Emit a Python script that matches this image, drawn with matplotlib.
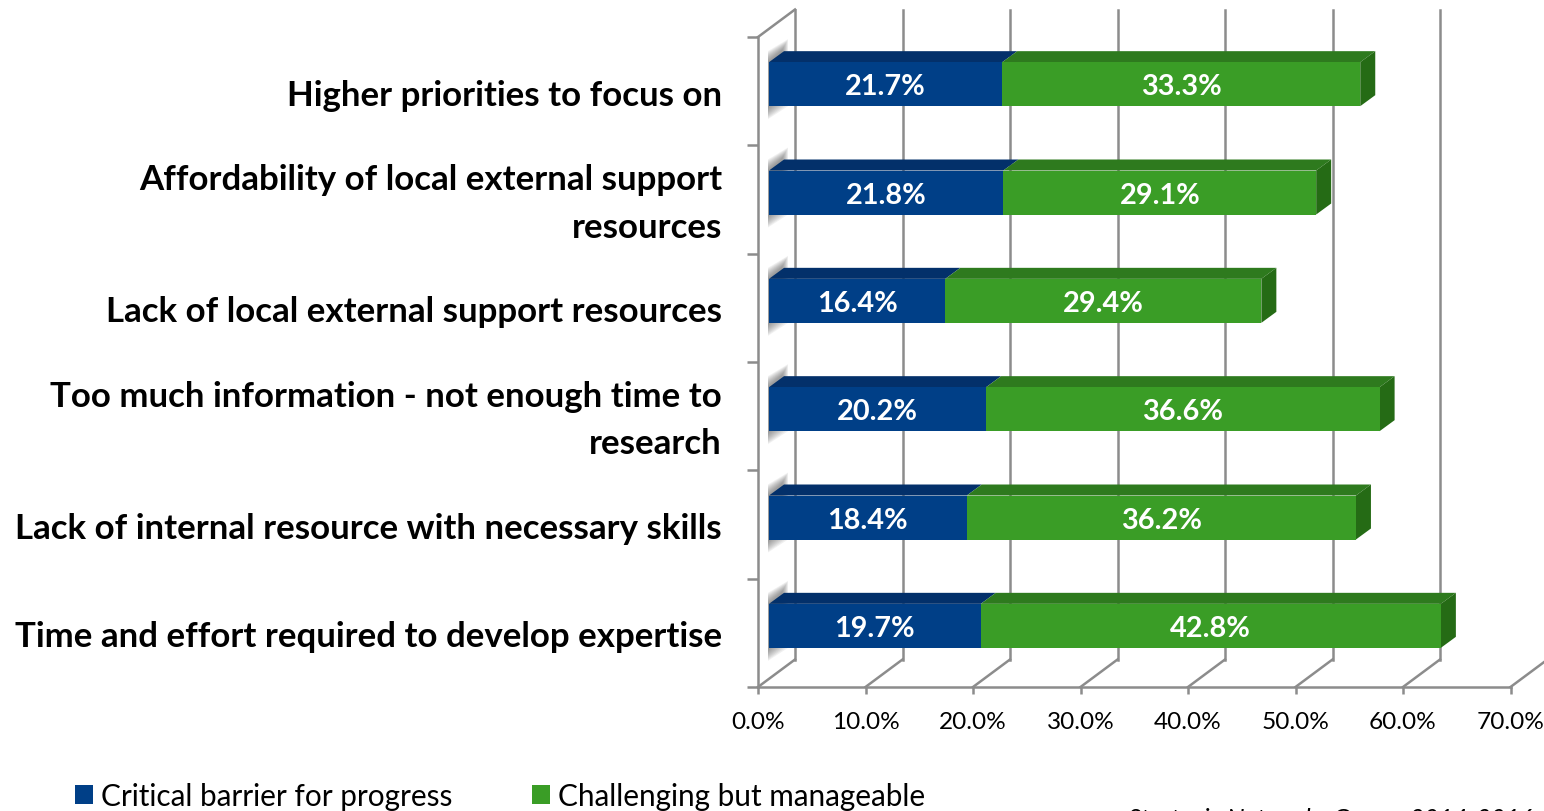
import matplotlib
matplotlib.use("Agg")
import matplotlib.pyplot as plt
from matplotlib.patches import Patch, Polygon

plt.rcParams['font.family'] = ['Lato', 'DejaVu Sans']

# bottom to top, the order barh draws them in
categories = [
    "Time and effort required to develop expertise",
    "Lack of internal resource with necessary skills",
    "Too much information - not enough time to\nresearch",
    "Lack of local external support resources",
    "Affordability of local external support\nresources",
    "Higher priorities to focus on",
]
critical = [19.7, 18.4, 20.2, 16.4, 21.8, 21.7]
challenging = [42.8, 36.2, 36.6, 29.4, 29.1, 33.3]
x_ticks = [0, 10, 20, 30, 40, 50, 60, 70]
series_names = ["Critical barrier for progress", "Challenging but manageable"]
source_note = "Strategic Networks Group, 2014-2016"

W, H = 1544, 812
BLUE, BLUE_TOP = "#003F87", "#03306A"
GREEN, GREEN_TOP, GREEN_SIDE = "#3A9D26", "#2E7A1E", "#256B15"
GREY = "#8C8C8C"
LW = 1.8

fig = plt.figure(figsize=(W / 100, H / 100), dpi=100)
ax = fig.add_axes([758 / W, 1 - 688 / H, (1510.5 - 758) / W, (688 - 38) / H])
ax.set_xlim(0, 70)
ax.set_ylim(0, 6)

# size of one data unit in pixels, the 3d offsets are built from it
ux = (1510.5 - 758) / 70
uy = (688 - 38) / 6
wall_dx, wall_dy = 37 / ux, 27.5 / uy
bar_dx, bar_dy = 15 / ux, 11 / uy
base = 11 / ux
bar_h = 44 / uy
bar_off = 7 / uy
label_off = 3.5 / uy


def poly(pts, color, z, alpha=1.0):
    ax.add_patch(Polygon(pts, closed=True, facecolor=color, edgecolor="none",
                         alpha=alpha, zorder=z, clip_on=False))


# back wall lines and floor lines
for t in x_ticks:
    ax.plot([t, t + wall_dx], [0, wall_dy], color=GREY, lw=LW, zorder=1, clip_on=False)
    ax.plot([t + wall_dx, t + wall_dx], [wall_dy, 6 + wall_dy], color=GREY, lw=LW,
            zorder=1, clip_on=False)
ax.plot([0, wall_dx], [6, 6 + wall_dy], color=GREY, lw=LW, zorder=1, clip_on=False)

y_pos = [i + 0.5 + bar_off for i in range(len(categories))]

# soft shadow of each bar on the left wall
for y in y_pos:
    y0, y1 = y - bar_h / 2, y + bar_h / 2
    for k in range(10):
        ins = k * 0.011
        poly([(base - 1 / ux, y0 - 13 / uy + ins), (base + 19 / ux - k * 0.06, y0 + ins),
              (base + 19 / ux - k * 0.06, y1 + 23 / uy - ins), (base - 1 / ux, y1 + 11 / uy - ins)],
             "#707070", 2, alpha=0.1)

bars1 = ax.barh(y_pos, critical, height=bar_h, left=base, color=BLUE, zorder=4)
left2 = [base + c for c in critical]
bars2 = ax.barh(y_pos, challenging, height=bar_h, left=left2, color=GREEN, zorder=4)

# top and side faces of the bars
for y, c, g in zip(y_pos, critical, challenging):
    top = y + bar_h / 2
    x1 = base + c
    x2 = x1 + g
    poly([(base, top), (x1, top), (x1 + bar_dx, top + bar_dy), (base + bar_dx, top + bar_dy)],
         BLUE_TOP, 3)
    poly([(x1, top), (x2, top), (x2 + bar_dx, top + bar_dy), (x1 + bar_dx, top + bar_dy)],
         GREEN_TOP, 3)
    poly([(x2, top), (x2 + bar_dx, top + bar_dy), (x2 + bar_dx, top + bar_dy - bar_h), (x2, top - bar_h)],
         GREEN_SIDE, 3)

for b in (bars1, bars2):
    labels = ax.bar_label(b, fmt="%.1f%%", label_type="center", color="white",
                          fontsize=20.8, fontweight="bold", zorder=6)
    for t in labels:
        t.xyann = (0, -1.5)

for s in ("top", "right"):
    ax.spines[s].set_visible(False)
for s in ("left", "bottom"):
    ax.spines[s].set_color(GREY)
    ax.spines[s].set_linewidth(LW)
    ax.spines[s].set_zorder(5)

ax.set_xticks(x_ticks)
ax.set_xticklabels([f"{t:.1f}%" for t in x_ticks])
ax.tick_params(axis="x", length=5, width=LW, color=GREY, labelsize=17.6, pad=12, labelcolor="black")
ax.set_yticks(range(len(categories) + 1))
ax.set_yticklabels([])
ax.tick_params(axis="y", which="major", length=8, width=LW, color=GREY)
ax.set_yticks([i + 0.5 - label_off for i in range(len(categories))], minor=True)
ax.set_yticklabels(categories, minor=True, fontsize=25.1, fontweight="bold",
                   linespacing=1.58, ha="right", va="center")
ax.tick_params(axis="y", which="minor", length=0, pad=26)

handles = [Patch(facecolor=BLUE), Patch(facecolor=GREEN)]
fig.legend(handles, series_names, loc="center left", bbox_to_anchor=(75 / W, 1 - 797 / H),
           ncol=2, frameon=False, fontsize=21.4, handlelength=0.6, handleheight=0.6,
           handletextpad=0.27, columnspacing=2.7, borderpad=0, borderaxespad=0)

fig.text(1533 / W, 1 - 820 / H, source_note, ha="right", va="center", fontsize=18,
         style="italic", color="black")

fig.savefig("out.png", dpi=100)
